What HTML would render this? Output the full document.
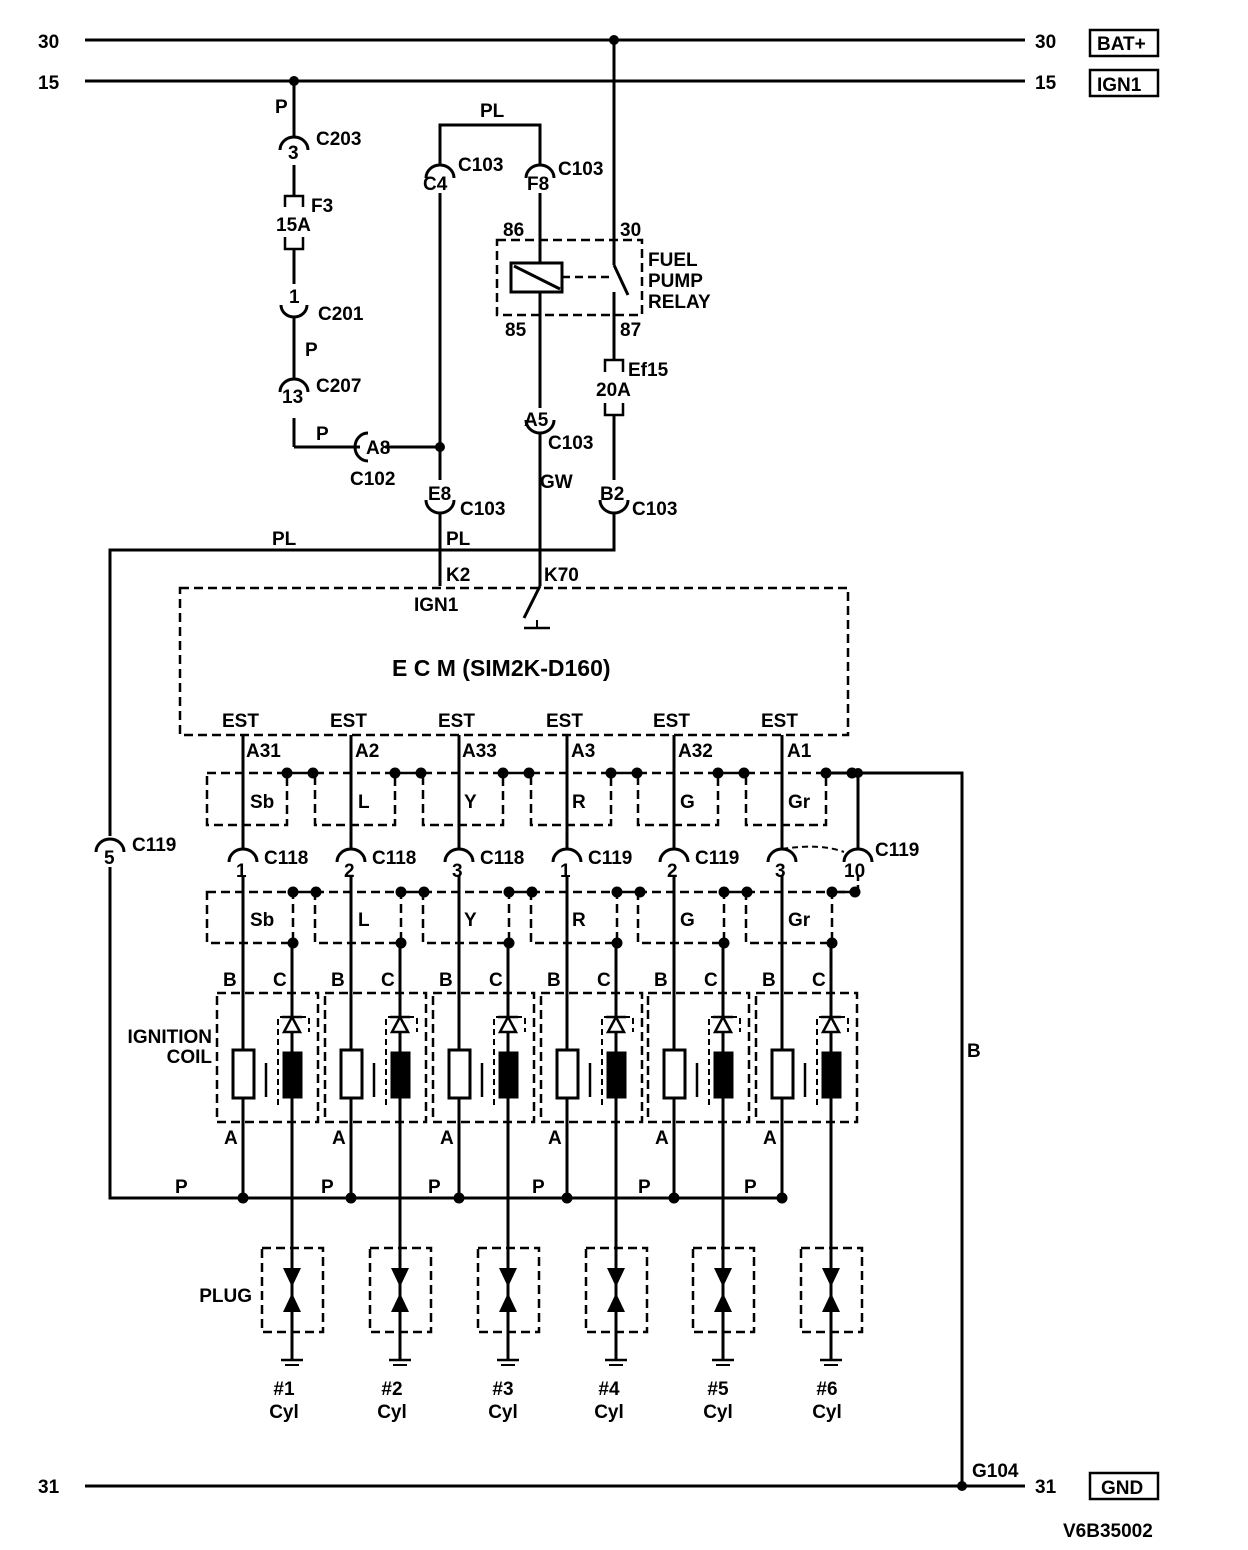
<!DOCTYPE html>
<html><head><meta charset="utf-8"><style>
body{margin:0;background:#fff}
svg{display:block}
text{font-family:"Liberation Sans",Arial,sans-serif;font-weight:bold;font-size:19px;fill:#000}
</style></head><body>
<svg width="1248" height="1550" viewBox="0 0 1248 1550" xmlns="http://www.w3.org/2000/svg">
<defs>
<g id="col" stroke="#000" fill="none">
  <line x1="243" y1="735" x2="243" y2="849" stroke-width="3"/>
  <path d="M229,862 A14,13 0 0 1 257,862" stroke-width="3"/>
  <line x1="243" y1="875" x2="243" y2="1198" stroke-width="3"/>
  <rect x="207" y="773" width="80" height="52" stroke-width="2.5" stroke-dasharray="9,5"/>
  <line x1="287" y1="773" x2="313" y2="773" stroke-width="2.5"/>
  <circle cx="287" cy="773" r="5" fill="#000"/>
  <circle cx="313" cy="773" r="5" fill="#000"/>
  <rect x="207" y="892" width="86" height="51" stroke-width="2.5" stroke-dasharray="9,5"/>
  <line x1="293" y1="892" x2="316" y2="892" stroke-width="2.5"/>
  <circle cx="293" cy="892" r="5" fill="#000"/>
  <circle cx="316" cy="892" r="5" fill="#000"/>
  <circle cx="293" cy="943" r="5" fill="#000"/>
  <line x1="292" y1="943" x2="292" y2="1360" stroke-width="3"/>
  <rect x="217" y="993" width="101" height="129" stroke-width="2.5" stroke-dasharray="9,5"/>
  <rect x="233" y="1050" width="21" height="48" fill="#fff" stroke-width="3"/>
  <line x1="266" y1="1063" x2="266" y2="1097" stroke-width="2.5"/>
  <path d="M278,1105 V1017 H309 V1032" stroke-width="2" stroke-dasharray="6,4"/>
  <path d="M284,1032 L292,1017 L300,1032 Z" fill="#fff" stroke-width="2.5"/>
  <line x1="282" y1="1017" x2="302" y2="1017" stroke-width="2.5"/>
  <rect x="283" y="1052" width="19" height="46" fill="#000"/>
  <rect x="262" y="1248" width="61" height="84" stroke-width="2.5" stroke-dasharray="9,5"/>
  <path d="M283,1268 L301,1268 L292,1287 Z" fill="#000" stroke="none"/>
  <path d="M283,1312 L301,1312 L292,1293 Z" fill="#000" stroke="none"/>
  <line x1="281" y1="1360" x2="303" y2="1360" stroke-width="2.5"/>
  <line x1="285" y1="1365" x2="299" y2="1365" stroke-width="2"/>
  <circle cx="243" cy="1198" r="5" fill="#000"/>
</g>
</defs>

<g stroke="#000" fill="none" stroke-width="3">
  <line x1="85" y1="40" x2="1025" y2="40"/>
  <line x1="85" y1="81" x2="1025" y2="81"/>
  <line x1="85" y1="1486" x2="1025" y2="1486"/>
  <rect x="1090" y="30" width="68" height="26" stroke-width="2.5"/>
  <rect x="1090" y="70" width="68" height="26" stroke-width="2.5"/>
  <rect x="1090" y="1473" width="68" height="26" stroke-width="2.5"/>
  <line x1="294" y1="81" x2="294" y2="137"/>
  <path d="M280,150 A14,13 0 0 1 308,150"/>
  <line x1="294" y1="165" x2="294" y2="196"/>
  <path d="M285,207 V196 H303 V207" stroke-width="2.5"/>
  <path d="M285,237 V249 H303 V237" stroke-width="2.5"/>
  <line x1="294" y1="249" x2="294" y2="284"/>
  <path d="M281,305 A13,12 0 0 0 307,305"/>
  <line x1="294" y1="317" x2="294" y2="379"/>
  <path d="M280,392 A14,13 0 0 1 308,392"/>
  <line x1="294" y1="418" x2="294" y2="447"/>
  <line x1="294" y1="447" x2="360" y2="447"/>
  <path d="M368,433 A13,14 0 0 0 368,461"/>
  <line x1="385" y1="447" x2="440" y2="447"/>
  <path d="M440,166 V125 H540 V166"/>
  <path d="M426,178 A14,13 0 0 1 454,178"/>
  <path d="M526,178 A14,13 0 0 1 554,178"/>
  <line x1="440" y1="193" x2="440" y2="480"/>
  <path d="M426,500 A14,13 0 0 0 454,500"/>
  <line x1="440" y1="512" x2="440" y2="586"/>
  <line x1="540" y1="193" x2="540" y2="263"/>
  <rect x="511" y="263" width="51" height="29" stroke-width="3"/>
  <line x1="514" y1="266" x2="560" y2="289"/>
  <line x1="562" y1="277" x2="612" y2="277" stroke-width="2.5" stroke-dasharray="8,5"/>
  <line x1="540" y1="292" x2="540" y2="408"/>
  <path d="M526,420 A14,13 0 0 0 554,420"/>
  <line x1="540" y1="432" x2="540" y2="586"/>
  <path d="M540,586 L524,618"/>
  <line x1="537" y1="620" x2="537" y2="628" stroke-width="2"/>
  <line x1="524" y1="628" x2="550" y2="628" stroke-width="2.5"/>
  <line x1="614" y1="40" x2="614" y2="265"/>
  <line x1="614" y1="265" x2="628" y2="295"/>
  <line x1="614" y1="292" x2="614" y2="360"/>
  <rect x="497" y="240" width="145" height="75" stroke-width="2.5" stroke-dasharray="9,5"/>
  <path d="M605,372 V360 H623 V372" stroke-width="2.5"/>
  <path d="M605,403 V415 H623 V403" stroke-width="2.5"/>
  <line x1="614" y1="415" x2="614" y2="480"/>
  <path d="M600,500 A14,13 0 0 0 628,500"/>
  <path d="M614,512 V550 H110 V836"/>
  <path d="M96,852 A14,13 0 0 1 124,852"/>
  <path d="M110,867 V1198 H782"/>
  <rect x="180" y="588" width="668" height="147" stroke-width="2.5" stroke-dasharray="9,5"/>
  <path d="M827,773 H962 V1486"/>
  <line x1="858" y1="773" x2="858" y2="850"/>
  <path d="M844,862 A14,13 0 0 1 872,862"/>
  <path d="M782,849 Q820,843 844,852" stroke-width="2" stroke-dasharray="6,4"/>
  <path d="M858,875 V892 H832" stroke-width="2.5" stroke-dasharray="6,4"/>
</g>
<g fill="#000">
  <circle cx="614" cy="40" r="5"/>
  <circle cx="294" cy="81" r="5"/>
  <circle cx="440" cy="447" r="5"/>
  <circle cx="858" cy="773" r="5"/>
  <circle cx="962" cy="1486" r="5"/>
</g>
<use href="#col"/>
<use href="#col" x="108"/>
<use href="#col" x="216"/>
<use href="#col" x="324"/>
<use href="#col" x="431"/>
<use href="#col" x="539"/>

<text x="38" y="48">30</text><text x="38" y="89">15</text><text x="38" y="1493">31</text>
<text x="1035" y="48">30</text><text x="1035" y="89">15</text><text x="1035" y="1493">31</text>
<text x="1097" y="50">BAT+</text><text x="1097" y="91">IGN1</text><text x="1101" y="1494">GND</text>
<text x="275" y="113">P</text><text x="288" y="159">3</text><text x="316" y="145">C203</text>
<text x="311" y="212">F3</text><text x="276" y="231">15A</text>
<text x="289" y="303">1</text><text x="318" y="320">C201</text>
<text x="305" y="356">P</text>
<text x="282" y="403">13</text><text x="316" y="392">C207</text>
<text x="316" y="440">P</text><text x="366" y="454">A8</text><text x="350" y="485">C102</text>
<text x="480" y="117">PL</text>
<text x="423" y="190">C4</text><text x="458" y="171">C103</text>
<text x="527" y="190">F8</text><text x="558" y="175">C103</text>
<text x="503" y="236">86</text><text x="620" y="236">30</text>
<text x="648" y="266">FUEL</text><text x="648" y="287">PUMP</text><text x="648" y="308">RELAY</text>
<text x="505" y="336">85</text><text x="620" y="336">87</text>
<text x="628" y="376">Ef15</text><text x="596" y="396">20A</text>
<text x="524" y="426">A5</text><text x="548" y="449">C103</text>
<text x="540" y="488">GW</text>
<text x="428" y="500">E8</text><text x="460" y="515">C103</text>
<text x="600" y="500">B2</text><text x="632" y="515">C103</text>
<text x="272" y="545">PL</text><text x="446" y="545">PL</text>
<text x="446" y="581">K2</text><text x="544" y="581">K70</text><text x="414" y="611">IGN1</text>
<text x="392" y="676" style="font-size:23px">E  C  M (SIM2K-D160)</text>
<text x="222" y="727">EST</text><text x="330" y="727">EST</text><text x="438" y="727">EST</text><text x="546" y="727">EST</text><text x="653" y="727">EST</text><text x="761" y="727">EST</text>
<text x="246" y="757">A31</text><text x="355" y="757">A2</text><text x="462" y="757">A33</text><text x="571" y="757">A3</text><text x="678" y="757">A32</text><text x="787" y="757">A1</text>
<text x="250" y="808">Sb</text><text x="358" y="808">L</text><text x="464" y="808">Y</text><text x="572" y="808">R</text><text x="680" y="808">G</text><text x="788" y="808">Gr</text>
<text x="236" y="877">1</text><text x="344" y="877">2</text><text x="452" y="877">3</text><text x="560" y="877">1</text><text x="667" y="877">2</text><text x="775" y="877">3</text>
<text x="264" y="864">C118</text><text x="372" y="864">C118</text><text x="480" y="864">C118</text><text x="588" y="864">C119</text><text x="695" y="864">C119</text>
<text x="844" y="877">10</text><text x="875" y="856">C119</text>
<text x="104" y="864">5</text><text x="132" y="851">C119</text>
<text x="250" y="926">Sb</text><text x="358" y="926">L</text><text x="464" y="926">Y</text><text x="572" y="926">R</text><text x="680" y="926">G</text><text x="788" y="926">Gr</text>
<text x="223" y="986">B</text><text x="273" y="986">C</text><text x="331" y="986">B</text><text x="381" y="986">C</text><text x="439" y="986">B</text><text x="489" y="986">C</text><text x="547" y="986">B</text><text x="597" y="986">C</text><text x="654" y="986">B</text><text x="704" y="986">C</text><text x="762" y="986">B</text><text x="812" y="986">C</text>
<text x="212" y="1043" text-anchor="end">IGNITION</text><text x="212" y="1063" text-anchor="end">COIL</text>
<text x="224" y="1144">A</text><text x="332" y="1144">A</text><text x="440" y="1144">A</text><text x="548" y="1144">A</text><text x="655" y="1144">A</text><text x="763" y="1144">A</text>
<text x="175" y="1193">P</text><text x="321" y="1193">P</text><text x="428" y="1193">P</text><text x="532" y="1193">P</text><text x="638" y="1193">P</text><text x="744" y="1193">P</text>
<text x="967" y="1057">B</text>
<text x="252" y="1302" text-anchor="end">PLUG</text>
<g text-anchor="middle">
<text x="284" y="1395">#1</text><text x="284" y="1418">Cyl</text>
<text x="392" y="1395">#2</text><text x="392" y="1418">Cyl</text>
<text x="503" y="1395">#3</text><text x="503" y="1418">Cyl</text>
<text x="609" y="1395">#4</text><text x="609" y="1418">Cyl</text>
<text x="718" y="1395">#5</text><text x="718" y="1418">Cyl</text>
<text x="827" y="1395">#6</text><text x="827" y="1418">Cyl</text>
</g>
<text x="972" y="1477">G104</text>
<text x="1063" y="1537">V6B35002</text>
</svg>
</body></html>
